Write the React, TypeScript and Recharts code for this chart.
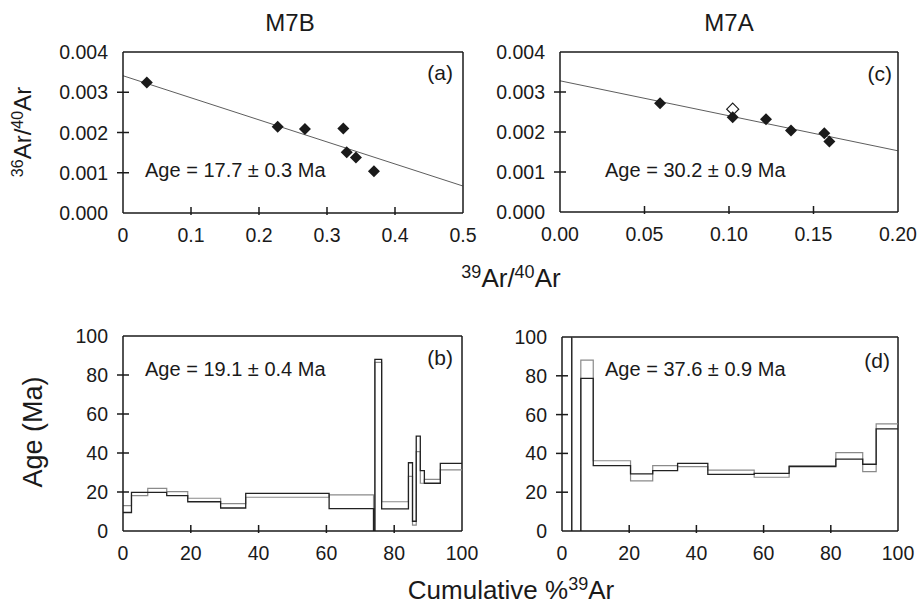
import React from 'react';
import { ComposedChart, LineChart, Line, Scatter, XAxis, YAxis, ReferenceLine } from 'recharts';

// ---- Panel (a): M7B isochron ----
const A_X = [0.035, 0.2275, 0.2676, 0.324, 0.329, 0.3426, 0.369];
const A_Y = [0.00324, 0.00214, 0.00209, 0.0021, 0.00151, 0.00138, 0.00104];
const A_FIT_X = [0, 0.5];
const A_FIT_Y = [0.00341, 0.00067];
const A_XTICKS = [0, 0.1, 0.2, 0.3, 0.4, 0.5];

// ---- Panel (c): M7A isochron ----
const C_X = [0.0592, 0.1022, 0.1219, 0.1367, 0.1564, 0.1594];
const C_Y = [0.00272, 0.00237, 0.00232, 0.00204, 0.00197, 0.00176];
const C_OPEN_X = [0.1022];
const C_OPEN_Y = [0.00257];
const C_FIT_X = [0, 0.2];
const C_FIT_Y = [0.00328, 0.00153];
const C_XTICKS = [0, 0.05, 0.1, 0.15, 0.2];

const ISO_YTICKS = [0, 0.001, 0.002, 0.003, 0.004];

// ---- Panel (b): M7B age spectrum ----
const B_EDGES = [0, 2.5, 7.3, 12.9, 19.1, 28.8, 36.2, 60.8, 73.9, 74.3, 76.3, 84.2, 85.4, 86.5, 87.7, 88.9, 93.6, 100];
const B_DARK = [9.5, 19.8, 19.8, 18.1, 15.0, 11.8, 19.3, 11.5, -5, 88, 11.3, 35, 5, 48.7, 31, 24.5, 34.7];
const B_GREY = [13, 18.1, 21.9, 20.2, 16.8, 14.0, 17.3, 18.5, -5, 86.5, 15, 28, 3, 40.7, 24.5, 26.5, 31.3];

// ---- Panel (d): M7A age spectrum ----
const D_EDGES = [0, 2.9, 5.6, 9.3, 20.4, 27.0, 34.4, 43.4, 57.2, 67.6, 81.5, 89.5, 93.5, 100];
const D_DARK = [115, -10, 78.7, 33.7, 29.4, 31.1, 34.9, 29.2, 29.7, 33.2, 37.0, 34.4, 52.6];
const D_GREY = [115, -10, 88.1, 36.2, 25.8, 33.7, 33.2, 31.4, 27.7, 33.7, 40.4, 30.6, 55.2];

const SPEC_TICKS = [0, 20, 40, 60, 80, 100];

const FONT = '"Liberation Sans", Arial, Helvetica, sans-serif';
const INK = '#1a1a1a';

const pts = (xs: number[], ys: number[]) => xs.map((x, i) => ({ x, y: ys[i] }));
const steps = (edges: number[], dark: number[], grey: number[]) =>
  edges.map((x, i) => {
    const k = Math.min(i, dark.length - 1);
    return { x, dark: dark[k], grey: grey[k] };
  });

const makeYTick = (fmt: (v: number) => string, min: number, max: number) => (props: any) => {
  const { x, y, payload } = props;
  const v = payload.value;
  const edge = Math.abs(v - min) < 1e-9 || Math.abs(v - max) < 1e-9;
  return (
    <g>
      {!edge && <line x1={x - 6} x2={x + 6} y1={y} y2={y} stroke={INK} strokeWidth={1.5} />}
      <text x={x - 15} y={y} dy="0.36em" textAnchor="end" fontFamily={FONT} fontSize={19.5} fill={INK}>
        {fmt(v)}
      </text>
    </g>
  );
};

const makeXTick = (fmt: (v: number) => string, min: number, max: number) => (props: any) => {
  const { x, y, payload } = props;
  const v = payload.value;
  const edge = Math.abs(v - min) < 1e-9 || Math.abs(v - max) < 1e-9;
  return (
    <g>
      {!edge && <line x1={x} x2={x} y1={y - 6} y2={y + 2} stroke={INK} strokeWidth={1.5} />}
      <text x={x} y={y + 22} dy="0.36em" textAnchor="middle" fontFamily={FONT} fontSize={19.5} fill={INK}>
        {fmt(v)}
      </text>
    </g>
  );
};

const Diamond = (props: any) => {
  const { cx, cy } = props;
  const r = 6;
  return <polygon points={`${cx},${cy - r} ${cx + r},${cy} ${cx},${cy + r} ${cx - r},${cy}`} fill={INK} />;
};
const OpenDiamond = (props: any) => {
  const { cx, cy } = props;
  const r = 6;
  return (
    <polygon
      points={`${cx},${cy - r} ${cx + r},${cy} ${cx},${cy + r} ${cx - r},${cy}`}
      fill="#fff"
      stroke={INK}
      strokeWidth={1.2}
    />
  );
};

const W = 921;
const H = 610;
const YW = 60;
const XH = 30;

type Box = { left: number; right: number; top: number; bottom: number };
const marginFor = (b: Box) => ({ left: b.left - YW, right: W - b.right, top: b.top, bottom: H - b.bottom - XH });

const abs: React.CSSProperties = { position: 'absolute', left: 0, top: 0 };

function Isochron(props: {
  box: Box;
  xMax: number;
  xTicks: number[];
  xFmt: (v: number) => string;
  pts: { x: number; y: number }[];
  open?: { x: number; y: number }[];
  fit: { x: number; y: number }[];
}) {
  const { box, xMax, xTicks, xFmt } = props;
  return (
    <div style={abs}>
      <ComposedChart width={W} height={H} margin={marginFor(box)}>
        <XAxis
          type="number"
          dataKey="x"
          domain={[0, xMax]}
          ticks={xTicks}
          interval={0}
          allowDataOverflow
          height={XH}
          tickSize={0}
          tickMargin={0}
          tickLine={false}
          axisLine={{ stroke: INK, strokeWidth: 1.5 }}
          tick={makeXTick(xFmt, 0, xMax)}
        />
        <YAxis
          type="number"
          dataKey="y"
          domain={[0, 0.004]}
          ticks={ISO_YTICKS}
          interval={0}
          allowDataOverflow
          width={YW}
          tickSize={0}
          tickMargin={0}
          tickLine={false}
          axisLine={{ stroke: INK, strokeWidth: 1.5 }}
          tick={makeYTick((v) => v.toFixed(3), 0, 0.004)}
        />
        <ReferenceLine y={0.004} stroke={INK} strokeWidth={1.5} />
        <ReferenceLine x={xMax} stroke={INK} strokeWidth={1.5} />
        <Line
          data={props.fit}
          dataKey="y"
          type="linear"
          stroke="#333"
          strokeWidth={0.8}
          dot={false}
          isAnimationActive={false}
        />
        {props.open && (
          <Scatter data={props.open} dataKey="y" shape={OpenDiamond} isAnimationActive={false} />
        )}
        <Scatter data={props.pts} dataKey="y" shape={Diamond} isAnimationActive={false} />
      </ComposedChart>
    </div>
  );
}

function Spectrum(props: { box: Box; data: { x: number; dark: number; grey: number }[] }) {
  const { box } = props;
  return (
    <div style={abs}>
      <LineChart width={W} height={H} margin={marginFor(box)} data={props.data}>
        <XAxis
          type="number"
          dataKey="x"
          domain={[0, 100]}
          ticks={SPEC_TICKS}
          interval={0}
          allowDataOverflow
          height={XH}
          tickSize={0}
          tickMargin={0}
          tickLine={false}
          axisLine={{ stroke: INK, strokeWidth: 1.5 }}
          tick={makeXTick((v) => String(v), 0, 100)}
        />
        <YAxis
          type="number"
          domain={[0, 100]}
          ticks={SPEC_TICKS}
          interval={0}
          allowDataOverflow
          width={YW}
          tickSize={0}
          tickMargin={0}
          tickLine={false}
          axisLine={{ stroke: INK, strokeWidth: 1.5 }}
          tick={makeYTick((v) => String(v), 0, 100)}
        />
        <ReferenceLine y={100} stroke={INK} strokeWidth={1.5} />
        <ReferenceLine x={100} stroke={INK} strokeWidth={1.5} />
        <Line dataKey="grey" type="stepAfter" stroke="#8a8a8a" strokeWidth={1.2} dot={false} isAnimationActive={false} />
        <Line dataKey="dark" type="stepAfter" stroke="#222" strokeWidth={1.3} dot={false} isAnimationActive={false} />
      </LineChart>
    </div>
  );
}

const Sup = (p: { children: React.ReactNode; size: number; shift: number }) => (
  <tspan fontSize={p.size} dy={-p.shift}>
    {p.children}
  </tspan>
);

export default function App() {
  const boxA = { left: 123, right: 463, top: 52, bottom: 213 };
  const boxC = { left: 560, right: 898, top: 52, bottom: 212 };
  const boxB = { left: 123, right: 462, top: 336, bottom: 531 };
  const boxD = { left: 562, right: 898, top: 337, bottom: 531 };
  const txt = { fontFamily: FONT, fill: INK } as const;
  return (
    <div style={{ position: 'absolute', left: 0, top: 0, width: W, height: H, background: '#fff', overflow: 'hidden' }}>
      <Isochron box={boxA} xMax={0.5} xTicks={A_XTICKS} xFmt={(v) => (v === 0 ? '0' : v.toFixed(1))} pts={pts(A_X, A_Y)} fit={pts(A_FIT_X, A_FIT_Y)} />
      <Isochron
        box={boxC}
        xMax={0.2}
        xTicks={C_XTICKS}
        xFmt={(v) => v.toFixed(2)}
        pts={pts(C_X, C_Y)}
        open={pts(C_OPEN_X, C_OPEN_Y)}
        fit={pts(C_FIT_X, C_FIT_Y)}
      />
      <Spectrum box={boxB} data={steps(B_EDGES, B_DARK, B_GREY)} />
      <Spectrum box={boxD} data={steps(D_EDGES, D_DARK, D_GREY)} />
      <svg width={W} height={H} style={abs}>
        <text x={290} y={22} dy="0.36em" textAnchor="middle" fontSize={24} {...txt}>M7B</text>
        <text x={729} y={22} dy="0.36em" textAnchor="middle" fontSize={24} {...txt}>M7A</text>

        <text x={145} y={170} dy="0.36em" fontSize={20} {...txt}>Age = 17.7 ± 0.3 Ma</text>
        <text x={605} y={170} dy="0.36em" fontSize={20} {...txt}>Age = 30.2 ± 0.9 Ma</text>
        <text x={145} y={369} dy="0.36em" fontSize={20} {...txt}>Age = 19.1 ± 0.4 Ma</text>
        <text x={605} y={369} dy="0.36em" fontSize={20} {...txt}>Age = 37.6 ± 0.9 Ma</text>

        <text x={453} y={72} dy="0.36em" textAnchor="end" fontSize={21} {...txt}>(a)</text>
        <text x={892} y={73} dy="0.36em" textAnchor="end" fontSize={21} {...txt}>(c)</text>
        <text x={453} y={357} dy="0.36em" textAnchor="end" fontSize={21} {...txt}>(b)</text>
        <text x={890} y={360} dy="0.36em" textAnchor="end" fontSize={21} {...txt}>(d)</text>

        <text transform="rotate(-90 31 132)" x={31} y={132} dy="0.36em" textAnchor="middle" fontSize={24} {...txt}>
          <Sup size={16} shift={8}>36</Sup>
          <tspan dy={8}>Ar/</tspan>
          <Sup size={16} shift={8}>40</Sup>
          <tspan dy={8}>Ar</tspan>
        </text>
        <text x={511} y={287} dy="0.36em" textAnchor="middle" fontSize={26} {...txt}>
          <Sup size={18} shift={9}>39</Sup>
          <tspan dy={9}>Ar/</tspan>
          <Sup size={18} shift={9}>40</Sup>
          <tspan dy={9}>Ar</tspan>
        </text>
        <text transform="rotate(-90 32 432)" x={32} y={432} dy="0.36em" textAnchor="middle" fontSize={27} {...txt}>
          Age (Ma)
        </text>
        <text x={511} y={590} dy="0.36em" textAnchor="middle" fontSize={26} {...txt}>
          <tspan>Cumulative %</tspan>
          <Sup size={18} shift={9}>39</Sup>
          <tspan dy={9}>Ar</tspan>
        </text>
      </svg>
    </div>
  );
}
